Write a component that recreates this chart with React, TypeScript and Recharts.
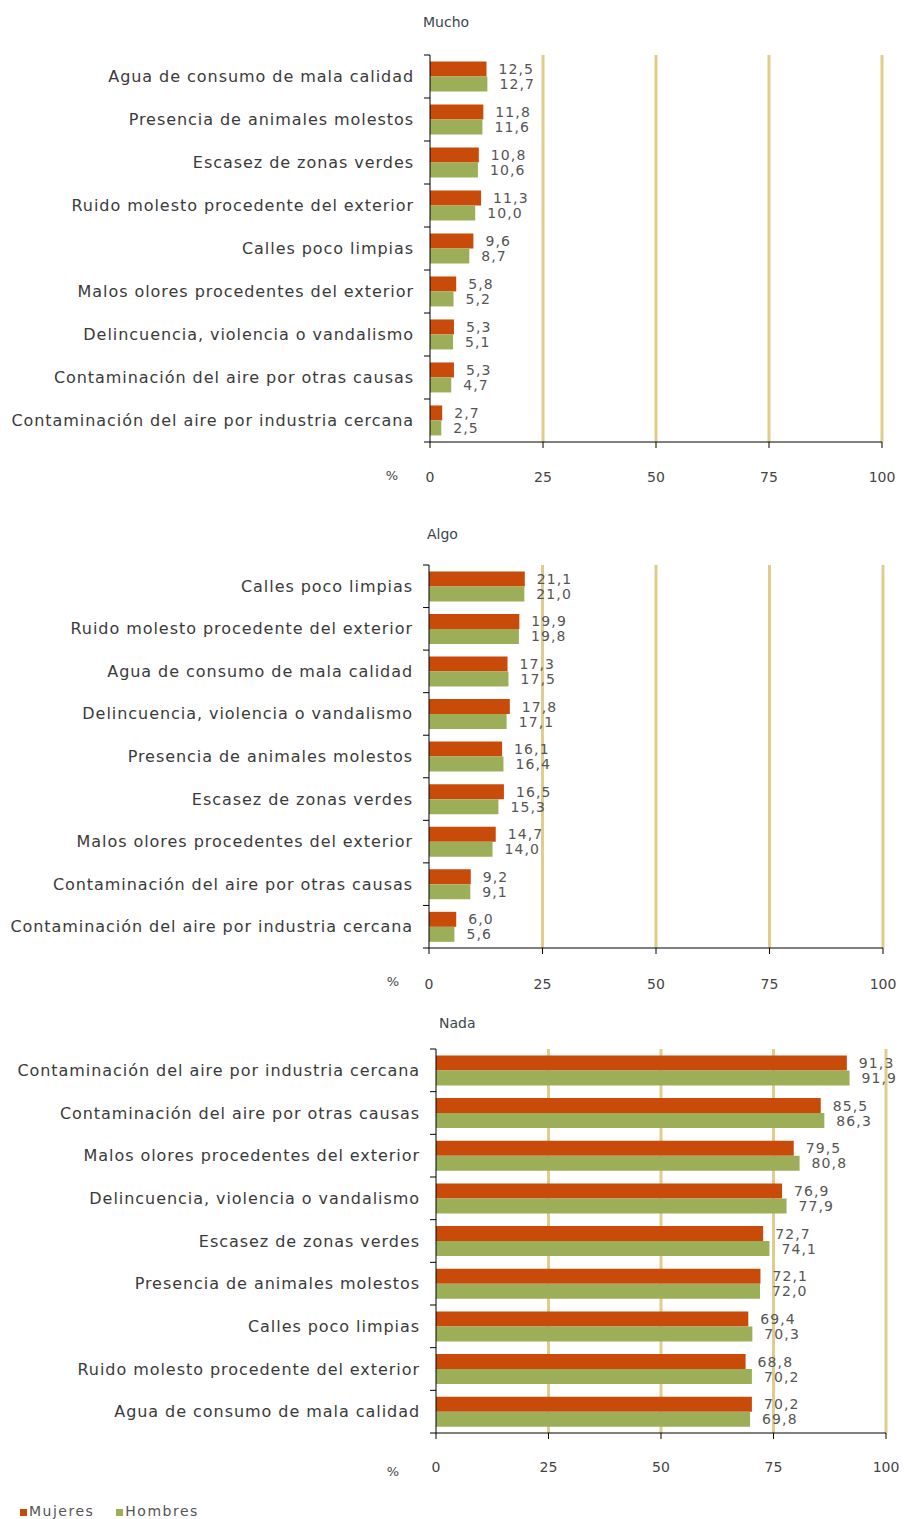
import { BarChart, Bar, XAxis, YAxis, CartesianGrid, LabelList, Legend } from "recharts";

const muchoCategorias = [
  "Agua de consumo de mala calidad",
  "Presencia de animales molestos",
  "Escasez de zonas verdes",
  "Ruido molesto procedente del exterior",
  "Calles poco limpias",
  "Malos olores procedentes del exterior",
  "Delincuencia, violencia o vandalismo",
  "Contaminación del aire por otras causas",
  "Contaminación del aire por industria cercana",
];
const muchoMujeres = [12.5, 11.8, 10.8, 11.3, 9.6, 5.8, 5.3, 5.3, 2.7];
const muchoHombres = [12.7, 11.6, 10.6, 10.0, 8.7, 5.2, 5.1, 4.7, 2.5];

const algoCategorias = [
  "Calles poco limpias",
  "Ruido molesto procedente del exterior",
  "Agua de consumo de mala calidad",
  "Delincuencia, violencia o vandalismo",
  "Presencia de animales molestos",
  "Escasez de zonas verdes",
  "Malos olores procedentes del exterior",
  "Contaminación del aire por otras causas",
  "Contaminación del aire por industria cercana",
];
const algoMujeres = [21.1, 19.9, 17.3, 17.8, 16.1, 16.5, 14.7, 9.2, 6.0];
const algoHombres = [21.0, 19.8, 17.5, 17.1, 16.4, 15.3, 14.0, 9.1, 5.6];

const nadaCategorias = [
  "Contaminación del aire por industria cercana",
  "Contaminación del aire por otras causas",
  "Malos olores procedentes del exterior",
  "Delincuencia, violencia o vandalismo",
  "Escasez de zonas verdes",
  "Presencia de animales molestos",
  "Calles poco limpias",
  "Ruido molesto procedente del exterior",
  "Agua de consumo de mala calidad",
];
const nadaMujeres = [91.3, 85.5, 79.5, 76.9, 72.7, 72.1, 69.4, 68.8, 70.2];
const nadaHombres = [91.9, 86.3, 80.8, 77.9, 74.1, 72.0, 70.3, 70.2, 69.8];

const xTicks = [0, 25, 50, 75, 100];

const MUJERES = "#C84B0A";
const HOMBRES = "#9CAF58";
const GRID = "#E0CD8E";
const FONT = "DejaVu Sans";

const fmt = (v: number) => v.toFixed(1).replace(".", ",");

const makeRows = (cats: string[], m: number[], h: number[]) =>
  cats.map((cat, i) => ({ cat, mujeres: m[i], hombres: h[i] }));

const valueLabel = (p: any) => (
  <text
    x={Number(p.x) + Number(p.width) + 12}
    y={Number(p.y) + Number(p.height) / 2}
    dominantBaseline="central"
    fontSize={14}
    letterSpacing={1.1}
    fill="#555"
    fontFamily={FONT}
  >
    {fmt(Number(p.value))}
  </text>
);

type PanelProps = {
  top: number;
  height: number;
  title: string;
  titleX: number;
  titleY: number;
  rows: { cat: string; mujeres: number; hombres: number }[];
  mTop: number;
  plotBottom: number;
  left: number;
  right: number;
  xMargin: number;
  pctDx: number;
  pctDy: number;
  legend?: boolean;
};

const Panel = (props: PanelProps) => {
  const { top, height, rows, mTop, plotBottom, left, right, xMargin, pctDx, pctDy } = props;
  const band = (plotBottom - mTop) / rows.length;
  const yGap = 16;

  const YTick = (p: any) => {
    const ax = p.x + yGap;
    return (
      <g>
        <text
          x={p.x}
          y={p.y}
          textAnchor="end"
          dominantBaseline="central"
          fontSize={16}
          letterSpacing={0.95}
          fill="#3a3a3a"
          fontFamily={FONT}
        >
          {p.payload.value}
        </text>
        <line x1={ax - 6} x2={ax} y1={p.y - band / 2} y2={p.y - band / 2} stroke="#000" />
        {p.index === rows.length - 1 && (
          <line x1={ax - 6} x2={ax} y1={p.y + band / 2} y2={p.y + band / 2} stroke="#000" />
        )}
      </g>
    );
  };

  const XTick = (p: any) => (
    <g>
      <text
        x={p.x}
        y={p.y}
        textAnchor="middle"
        dy="0.71em"
        fontSize={14}
        fill="#444"
        fontFamily={FONT}
      >
        {p.payload.value}
      </text>
      {p.payload.value === 0 && (
        <text
          x={p.x + pctDx}
          y={p.y + pctDy}
          textAnchor="middle"
          dy="0.71em"
          fontSize={13}
          fill="#444"
          fontFamily={FONT}
        >
          %
        </text>
      )}
    </g>
  );

  return (
    <div style={{ position: "absolute", top, left: 0, width: 905, height }}>
      <div
        style={{
          position: "absolute",
          left: props.titleX,
          top: props.titleY - 8,
          fontFamily: FONT,
          fontSize: 14,
          lineHeight: "16px",
          color: "#3c454c",
        }}
      >
        {props.title}
      </div>
      <BarChart
        width={905}
        height={height}
        data={rows}
        layout="vertical"
        margin={{ top: mTop, right: 905 - right, bottom: 0, left: 0 }}
        barCategoryGap="15%"
        barGap={0}
      >
        <CartesianGrid horizontal={false} verticalValues={[25, 50, 75, 100]} stroke={GRID} strokeWidth={3} />
        <XAxis
          type="number"
          domain={[0, 100]}
          ticks={xTicks}
          interval={0}
          height={height - plotBottom}
          axisLine={{ stroke: "#000" }}
          tickLine={{ stroke: "#000" }}
          tickSize={6}
          tickMargin={xMargin}
          tick={XTick}
        />
        <YAxis
          type="category"
          dataKey="cat"
          width={left}
          interval={0}
          axisLine={{ stroke: "#000" }}
          tickLine={false}
          tickSize={0}
          tickMargin={yGap}
          tick={YTick}
        />
        <Bar dataKey="mujeres" name="Mujeres" fill={MUJERES} isAnimationActive={false}>
          <LabelList dataKey="mujeres" content={valueLabel} />
        </Bar>
        <Bar dataKey="hombres" name="Hombres" fill={HOMBRES} isAnimationActive={false}>
          <LabelList dataKey="hombres" content={valueLabel} />
        </Bar>
        {props.legend && (
          <Legend
            layout="horizontal"
            verticalAlign="middle"
            align="center"
            wrapperStyle={{ top: height - 16, left: 20, width: 300, height: 16 }}
            content={() => (
              <div style={{ display: "flex", alignItems: "center", fontFamily: FONT, fontSize: 14, letterSpacing: 1.5, color: "#555" }}>
                <span style={{ width: 7, height: 7, background: MUJERES, marginRight: 2, marginTop: 3 }} />
                <span style={{ marginRight: 22 }}>Mujeres</span>
                <span style={{ width: 7, height: 7, background: HOMBRES, marginRight: 2, marginTop: 3 }} />
                <span>Hombres</span>
              </div>
            )}
          />
        )}
      </BarChart>
    </div>
  );
};

export default function App() {
  return (
    <div style={{ position: "absolute", top: 0, left: 0, width: 905, height: 1519, background: "#fff" }}>
      <Panel
        top={0}
        height={500}
        title="Mucho"
        titleX={423}
        titleY={22}
        rows={makeRows(muchoCategorias, muchoMujeres, muchoHombres)}
        mTop={55}
        plotBottom={442}
        left={430}
        right={882}
        xMargin={24}
        pctDx={-38}
        pctDy={-1}
      />
      <Panel
        top={500}
        height={505}
        title="Algo"
        titleX={427}
        titleY={34}
        rows={makeRows(algoCategorias, algoMujeres, algoHombres)}
        mTop={65}
        plotBottom={448}
        left={429}
        right={883}
        xMargin={25}
        pctDx={-36}
        pctDy={-2}
      />
      <Panel
        top={1005}
        height={514}
        title="Nada"
        titleX={439}
        titleY={18}
        rows={makeRows(nadaCategorias, nadaMujeres, nadaHombres)}
        mTop={44}
        plotBottom={428}
        left={436}
        right={886}
        xMargin={23}
        pctDx={-43}
        pctDy={5}
        legend
      />
    </div>
  );
}
